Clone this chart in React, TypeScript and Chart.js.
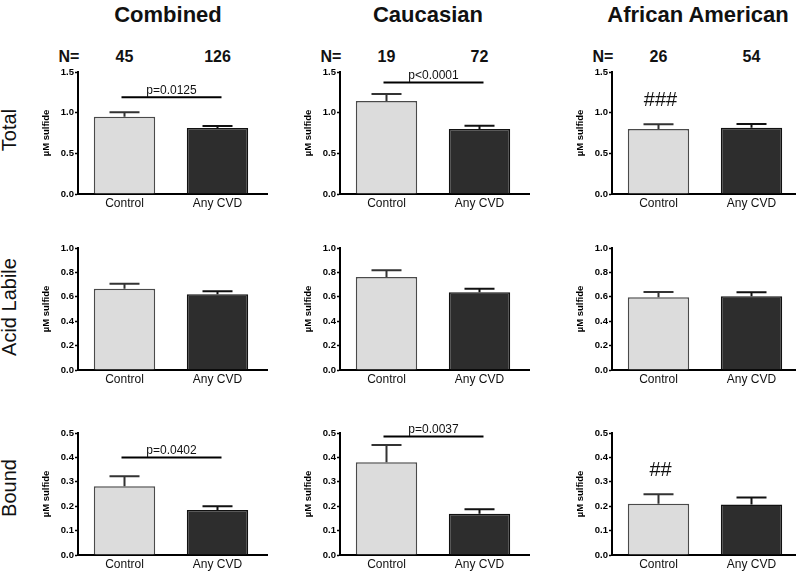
import React, { useEffect, useRef } from "react";
import { Chart, registerables } from "chart.js";

Chart.register(...registerables);

// ---------------- data ----------------
const categories = ["Control", "Any CVD"];
const groupTitles = ["Combined", "Caucasian", "African American"];
const measureLabels = ["Total", "Acid Labile", "Bound"];

const nCombined = [45, 126];
const nCaucasian = [19, 72];
const nAfricanAmerican = [26, 54];

const yMax = [1.5, 1.0, 0.5];
const yStep = [0.5, 0.2, 0.1];

// Total sulfide (mean, SEM)
const totalCombinedMean = [0.95, 0.81];
const totalCombinedSem = [0.055, 0.026];
const totalCaucasianMean = [1.143, 0.8];
const totalCaucasianSem = [0.087, 0.04];
const totalAfricanAmericanMean = [0.8, 0.815];
const totalAfricanAmericanSem = [0.057, 0.045];

// Acid labile sulfide
const acidCombinedMean = [0.667, 0.621];
const acidCombinedSem = [0.039, 0.024];
const acidCaucasianMean = [0.763, 0.637];
const acidCaucasianSem = [0.054, 0.03];
const acidAfricanAmericanMean = [0.596, 0.605];
const acidAfricanAmericanSem = [0.044, 0.032];

// Bound sulfide
const boundCombinedMean = [0.282, 0.184];
const boundCombinedSem = [0.041, 0.016];
const boundCaucasianMean = [0.38, 0.169];
const boundCaucasianSem = [0.071, 0.018];
const boundAfricanAmericanMean = [0.21, 0.207];
const boundAfricanAmericanSem = [0.039, 0.029];

// significance annotations
const pTextTotal = ["p=0.0125", "p<0.0001", ""];
const pLevelTotal = [1.19, 1.37, 0];
const pTextAcid = ["", "", ""];
const pLevelAcid = [0, 0, 0];
const pTextBound = ["p=0.0402", "p=0.0037", ""];
const pLevelBound = [0.4, 0.486, 0];
const markerTotal = ["", "", "###"];
const markerAcid = ["", "", ""];
const markerBound = ["", "", "##"];

// ---------------- assembled tables ----------------
const groupN = [nCombined, nCaucasian, nAfricanAmerican];
const means = [
  [totalCombinedMean, totalCaucasianMean, totalAfricanAmericanMean],
  [acidCombinedMean, acidCaucasianMean, acidAfricanAmericanMean],
  [boundCombinedMean, boundCaucasianMean, boundAfricanAmericanMean],
];
const sems = [
  [totalCombinedSem, totalCaucasianSem, totalAfricanAmericanSem],
  [acidCombinedSem, acidCaucasianSem, acidAfricanAmericanSem],
  [boundCombinedSem, boundCaucasianSem, boundAfricanAmericanSem],
];
const pTexts = [pTextTotal, pTextAcid, pTextBound];
const pLevels = [pLevelTotal, pLevelAcid, pLevelBound];
const markers = [markerTotal, markerAcid, markerBound];

// ---------------- layout ----------------
const FONT = "'Liberation Sans', Arial, Helvetica, sans-serif";
const AXIS_X = [78, 340, 612];
const PLOT_TOP = [72, 248, 433];
const PLOT_H = 122;
const PLOT_W = 186;
const Y_W = 45;
const X_H = 24;
const TOP_PAD = 12;
const RIGHT_PAD = 8;

const annotPlugin = {
  id: "annot",
  afterDatasetsDraw(chart: any, _args: any, opts: any) {
    const { ctx, chartArea } = chart;
    const xs = chart.scales.x;
    const ys = chart.scales.y;
    ctx.save();
    // small extension of the x axis line beyond the plot, as in the original
    ctx.strokeStyle = "#000";
    ctx.lineWidth = 2;
    ctx.beginPath();
    ctx.moveTo(chartArea.right - 1, chartArea.bottom);
    ctx.lineTo(chartArea.right + 4, chartArea.bottom);
    ctx.stroke();
    // error bars (mean + SEM)
    opts.mean.forEach((m: number, i: number) => {
      const x = xs.getPixelForValue(i);
      const yMean = ys.getPixelForValue(m);
      const yTop = ys.getPixelForValue(m + opts.sem[i]);
      ctx.strokeStyle = i === 0 ? "#333" : "#111";
      ctx.lineWidth = 2;
      ctx.beginPath();
      ctx.moveTo(x, yMean);
      ctx.lineTo(x, yTop);
      ctx.moveTo(x - 15, yTop);
      ctx.lineTo(x + 15, yTop);
      ctx.stroke();
    });
    // p-value bracket
    if (opts.pText) {
      const y = ys.getPixelForValue(opts.pLevel);
      const x1 = xs.getPixelForValue(0) - 3;
      const x2 = xs.getPixelForValue(1) + 4;
      ctx.strokeStyle = "#000";
      ctx.lineWidth = 2;
      ctx.beginPath();
      ctx.moveTo(x1, y);
      ctx.lineTo(x2, y);
      ctx.stroke();
      ctx.fillStyle = "#111";
      ctx.font = `12px ${FONT}`;
      ctx.textAlign = "center";
      ctx.textBaseline = "bottom";
      ctx.fillText(opts.pText, (x1 + x2) / 2, y - 1);
    }
    // race marker
    if (opts.marker) {
      const x = xs.getPixelForValue(0);
      const yTop = ys.getPixelForValue(opts.mean[0] + opts.sem[0]);
      ctx.fillStyle = "#111";
      ctx.font = `20px ${FONT}`;
      ctx.textAlign = "center";
      ctx.textBaseline = "alphabetic";
      ctx.fillText(opts.marker, x + 2, yTop - 18);
    }
    ctx.restore();
  },
};

function Panel({ row, col }: { row: number; col: number }) {
  const ref = useRef<HTMLCanvasElement | null>(null);
  const left = AXIS_X[col] - Y_W;
  const top = PLOT_TOP[row] - TOP_PAD;
  const width = Y_W + PLOT_W + RIGHT_PAD;
  const height = TOP_PAD + PLOT_H + X_H;

  useEffect(() => {
    if (!ref.current) return;
    const mean = means[row][col];
    const sem = sems[row][col];
    const chart = new Chart(ref.current, {
      type: "bar",
      data: {
        labels: categories,
        datasets: [
          {
            data: mean,
            backgroundColor: ["#dcdcdc", "#2d2d2d"],
            borderColor: ["#4a4a4a", "#111111"],
            borderWidth: 1.5,
            barPercentage: 0.66,
            categoryPercentage: 1,
          },
        ],
      },
      options: {
        responsive: false,
        animation: false,
        devicePixelRatio: 1,
        layout: { padding: { top: TOP_PAD, right: RIGHT_PAD, left: 0, bottom: 0 } },
        plugins: {
          legend: { display: false },
          tooltip: { enabled: false },
          annot: {
            mean,
            sem,
            pText: pTexts[row][col],
            pLevel: pLevels[row][col],
            marker: markers[row][col],
          },
        } as any,
        scales: {
          x: {
            type: "category",
            grid: { drawOnChartArea: false, drawTicks: false },
            border: { display: true, color: "#000", width: 2 },
            ticks: {
              font: { family: FONT, size: 12 },
              color: "#111",
              padding: 2,
              maxRotation: 0,
              autoSkip: false,
            },
            afterFit: (s: any) => {
              s.height = X_H;
              s.paddingLeft = 0;
              s.paddingRight = 0;
            },
          },
          y: {
            type: "linear",
            min: 0,
            max: yMax[row],
            grid: {
              drawOnChartArea: false,
              drawTicks: true,
              tickLength: 3,
              tickWidth: 1.5,
              tickColor: "#000",
            },
            border: { display: true, color: "#000", width: 2 },
            ticks: {
              stepSize: yStep[row],
              callback: (v: any) => Number(v).toFixed(1),
              font: { family: FONT, size: 9.5, weight: "bold" },
              color: "#000",
              padding: 1,
            },
            title: {
              display: true,
              text: "µM sulfide",
              font: { family: FONT, size: 9.5, weight: "bold" },
              color: "#000",
              padding: { top: 7.5, bottom: 0 },
            },
            afterFit: (s: any) => {
              s.width = Y_W;
              s.paddingTop = 0;
              s.paddingBottom = 0;
            },
          },
        },
      } as any,
      plugins: [annotPlugin as any],
    });
    return () => chart.destroy();
  }, [row, col]);

  return (
    <canvas
      ref={ref}
      width={width}
      height={height}
      style={{ position: "absolute", left, top, width, height }}
    />
  );
}

const titleCenters = [168, 428, 698];
const rowLabelCenters = [130, 306.5, 488];

export default function App() {
  const textBase: React.CSSProperties = {
    position: "absolute",
    fontFamily: FONT,
    color: "#111",
    whiteSpace: "nowrap",
    lineHeight: "normal",
    transform: "translate(-50%, -50%)",
  };
  return (
    <div
      style={{
        position: "absolute",
        left: 0,
        top: 0,
        width: 796,
        height: 571,
        overflow: "hidden",
        background: "#fff",
      }}
    >
      {groupTitles.map((t, c) => (
        <div
          key={"t" + c}
          style={{ ...textBase, left: titleCenters[c], top: 15, fontSize: 22, fontWeight: "bold" }}
        >
          {t}
        </div>
      ))}
      {groupN.map((ns, c) => {
        const c0 = AXIS_X[c] + PLOT_W / 4;
        const c1 = AXIS_X[c] + (3 * PLOT_W) / 4;
        return (
          <React.Fragment key={"n" + c}>
            <div style={{ ...textBase, left: AXIS_X[c] - 9, top: 57, fontSize: 16, fontWeight: "bold" }}>N=</div>
            <div style={{ ...textBase, left: c0, top: 57, fontSize: 16, fontWeight: "bold" }}>{ns[0]}</div>
            <div style={{ ...textBase, left: c1, top: 57, fontSize: 16, fontWeight: "bold" }}>{ns[1]}</div>
          </React.Fragment>
        );
      })}
      {measureLabels.map((t, r) => (
        <div
          key={"r" + r}
          style={{
            ...textBase,
            left: 8.5,
            top: rowLabelCenters[r],
            fontSize: 20,
            transform: "translate(-50%, -50%) rotate(-90deg)",
          }}
        >
          {t}
        </div>
      ))}
      {[0, 1, 2].map((r) =>
        [0, 1, 2].map((c) => <Panel key={r + "-" + c} row={r} col={c} />)
      )}
    </div>
  );
}
